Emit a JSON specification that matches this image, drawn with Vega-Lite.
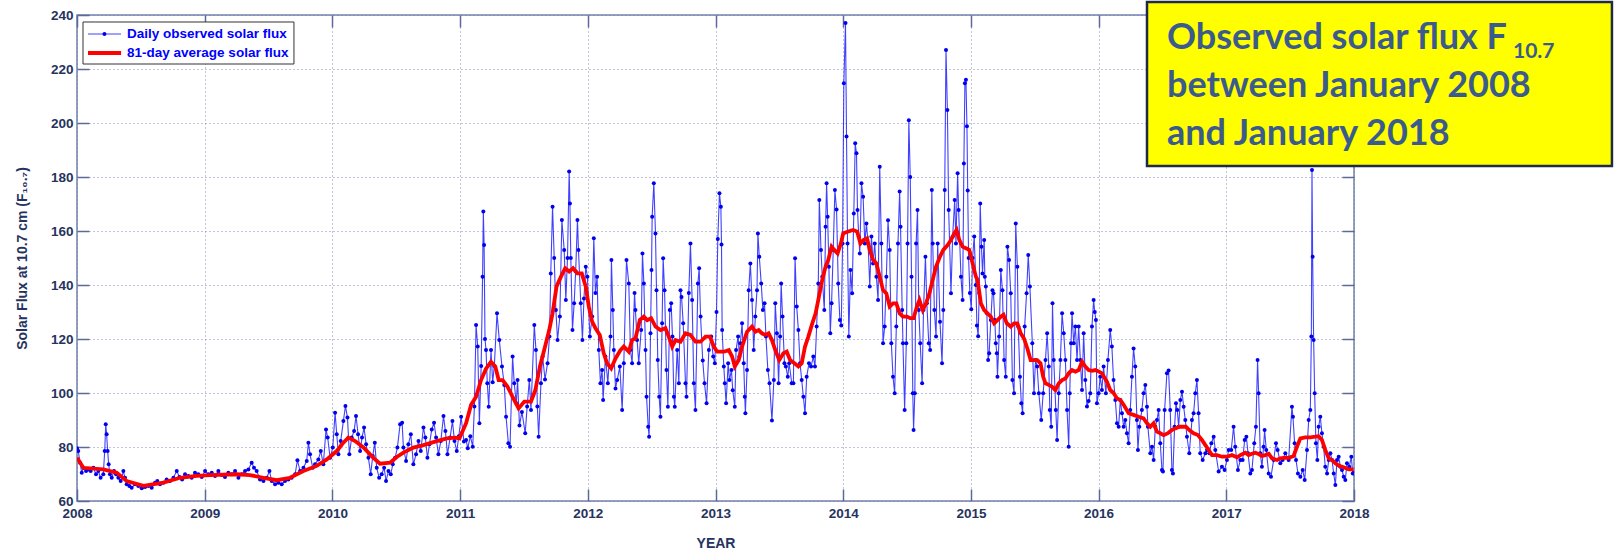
{
"$schema": "https://vega.github.io/schema/vega-lite/v6.json",
"width": 1277, "height": 486,
"autosize": {"type": "none"},
"padding": {"left": 77, "top": 15, "right": 260, "bottom": 51},
"background": "white",
"config": {
  "view": {"stroke": "#7381AD", "strokeWidth": 1.5},
  "axis": {"labelFont": "Liberation Sans", "labelFontSize": 13.5, "labelFontWeight": "bold", "labelColor": "#26335E",
           "titleFont": "Liberation Sans", "titleFontSize": 14, "titleFontWeight": "bold", "titleColor": "#26335E",
           "tickColor": "#5C6A99", "tickWidth": 1.5, "tickSize": -12, "domain": false, "labelPadding": 17,
           "gridDash": [1, 3], "gridColor": "#6F7DB3", "gridWidth": 1, "gridOpacity": 0.9, "labelFlush": false}
},
"data": {"values": [{}]},
"datasets": {
"daily": [
{"t":2008.000,"v":79.5},{"t":2008.010,"v":78.5},{"t":2008.024,"v":74.2},{"t":2008.037,"v":70.5},{"t":2008.050,"v":72.3},{"t":2008.071,"v":71.1},{"t":2008.089,"v":71.7},{"t":2008.107,"v":71.1},{"t":2008.128,"v":72.3},{"t":2008.149,"v":69.9},{"t":2008.167,"v":71.1},{"t":2008.185,"v":68.6},{"t":2008.206,"v":69.9},{"t":2008.217,"v":78.5},{"t":2008.225,"v":88.4},{"t":2008.232,"v":84.7},{"t":2008.240,"v":78.5},{"t":2008.248,"v":73.6},{"t":2008.258,"v":69.9},{"t":2008.272,"v":68.6},{"t":2008.290,"v":71.1},{"t":2008.306,"v":69.9},{"t":2008.324,"v":68.6},{"t":2008.342,"v":67.4},{"t":2008.363,"v":71.1},{"t":2008.376,"v":68.6},{"t":2008.389,"v":66.2},{"t":2008.410,"v":65.6},{"t":2008.428,"v":64.9},{"t":2008.454,"v":66.2},{"t":2008.480,"v":65.6},{"t":2008.507,"v":64.7},{"t":2008.533,"v":65.2},{"t":2008.559,"v":65.6},{"t":2008.585,"v":64.9},{"t":2008.611,"v":66.8},{"t":2008.629,"v":67.4},{"t":2008.650,"v":66.2},{"t":2008.676,"v":66.8},{"t":2008.702,"v":68.0},{"t":2008.728,"v":67.4},{"t":2008.755,"v":68.6},{"t":2008.781,"v":71.1},{"t":2008.802,"v":68.9},{"t":2008.823,"v":68.0},{"t":2008.846,"v":69.9},{"t":2008.872,"v":69.3},{"t":2008.898,"v":68.6},{"t":2008.924,"v":70.5},{"t":2008.950,"v":69.9},{"t":2008.977,"v":68.9},
{"t":2009.003,"v":71.1},{"t":2009.029,"v":69.9},{"t":2009.055,"v":70.5},{"t":2009.081,"v":69.3},{"t":2009.107,"v":71.1},{"t":2009.133,"v":69.6},{"t":2009.159,"v":68.9},{"t":2009.185,"v":70.5},{"t":2009.212,"v":69.9},{"t":2009.238,"v":71.1},{"t":2009.264,"v":68.6},{"t":2009.290,"v":69.9},{"t":2009.316,"v":71.1},{"t":2009.342,"v":71.7},{"t":2009.368,"v":74.2},{"t":2009.386,"v":72.3},{"t":2009.407,"v":71.1},{"t":2009.433,"v":68.0},{"t":2009.460,"v":67.4},{"t":2009.486,"v":68.6},{"t":2009.507,"v":71.1},{"t":2009.525,"v":67.4},{"t":2009.551,"v":66.2},{"t":2009.577,"v":66.8},{"t":2009.603,"v":66.2},{"t":2009.629,"v":67.4},{"t":2009.655,"v":68.0},{"t":2009.681,"v":68.6},{"t":2009.708,"v":69.9},{"t":2009.726,"v":75.1},{"t":2009.747,"v":71.1},{"t":2009.773,"v":72.3},{"t":2009.799,"v":74.8},{"t":2009.812,"v":81.6},{"t":2009.825,"v":77.3},{"t":2009.846,"v":72.3},{"t":2009.864,"v":73.6},{"t":2009.890,"v":75.4},{"t":2009.909,"v":78.5},{"t":2009.929,"v":73.6},{"t":2009.950,"v":86.5},{"t":2009.963,"v":83.5},{"t":2009.982,"v":76.0},
{"t":2010.003,"v":79.8},{"t":2010.021,"v":92.7},{"t":2010.034,"v":84.7},{"t":2010.047,"v":77.3},{"t":2010.065,"v":82.2},{"t":2010.086,"v":89.6},{"t":2010.102,"v":95.2},{"t":2010.118,"v":90.9},{"t":2010.133,"v":77.3},{"t":2010.151,"v":83.5},{"t":2010.170,"v":85.9},{"t":2010.185,"v":91.5},{"t":2010.201,"v":84.7},{"t":2010.217,"v":78.5},{"t":2010.232,"v":83.5},{"t":2010.248,"v":87.2},{"t":2010.264,"v":81.0},{"t":2010.282,"v":76.0},{"t":2010.300,"v":69.9},{"t":2010.316,"v":76.7},{"t":2010.332,"v":81.6},{"t":2010.347,"v":72.3},{"t":2010.366,"v":68.6},{"t":2010.386,"v":69.9},{"t":2010.405,"v":72.3},{"t":2010.420,"v":67.4},{"t":2010.439,"v":71.1},{"t":2010.457,"v":69.9},{"t":2010.473,"v":73.6},{"t":2010.491,"v":76.0},{"t":2010.509,"v":79.8},{"t":2010.530,"v":88.4},{"t":2010.546,"v":89.0},{"t":2010.556,"v":79.8},{"t":2010.577,"v":74.8},{"t":2010.595,"v":81.0},{"t":2010.614,"v":84.7},{"t":2010.634,"v":73.6},{"t":2010.655,"v":77.3},{"t":2010.674,"v":82.2},{"t":2010.692,"v":78.5},{"t":2010.713,"v":87.2},{"t":2010.728,"v":83.5},{"t":2010.744,"v":76.0},{"t":2010.760,"v":81.0},{"t":2010.778,"v":86.5},{"t":2010.796,"v":89.0},{"t":2010.812,"v":83.5},{"t":2010.830,"v":77.3},{"t":2010.849,"v":82.2},{"t":2010.870,"v":91.5},{"t":2010.885,"v":85.9},{"t":2010.901,"v":77.3},{"t":2010.922,"v":83.5},{"t":2010.940,"v":89.6},{"t":2010.956,"v":82.2},{"t":2010.974,"v":78.5},{"t":2010.990,"v":84.0},
{"t":2011.008,"v":91.2},{"t":2011.030,"v":82.0},{"t":2011.047,"v":82.6},{"t":2011.060,"v":79.5},{"t":2011.080,"v":84.0},{"t":2011.099,"v":80.1},{"t":2011.112,"v":95.0},{"t":2011.125,"v":125.2},{"t":2011.138,"v":117.2},{"t":2011.151,"v":88.8},{"t":2011.165,"v":110.0},{"t":2011.176,"v":143.1},{"t":2011.182,"v":167.2},{"t":2011.188,"v":154.8},{"t":2011.195,"v":120.0},{"t":2011.203,"v":115.9},{"t":2011.213,"v":103.6},{"t":2011.224,"v":94.9},{"t":2011.242,"v":115.9},{"t":2011.255,"v":104.0},{"t":2011.268,"v":110.0},{"t":2011.289,"v":129.5},{"t":2011.307,"v":119.6},{"t":2011.328,"v":109.8},{"t":2011.346,"v":103.0},{"t":2011.360,"v":91.2},{"t":2011.378,"v":81.4},{"t":2011.391,"v":80.1},{"t":2011.411,"v":113.5},{"t":2011.424,"v":103.6},{"t":2011.440,"v":96.2},{"t":2011.450,"v":104.8},{"t":2011.465,"v":88.0},{"t":2011.484,"v":93.0},{"t":2011.510,"v":85.1},{"t":2011.525,"v":95.0},{"t":2011.542,"v":104.8},{"t":2011.555,"v":93.7},{"t":2011.581,"v":125.2},{"t":2011.594,"v":115.9},{"t":2011.605,"v":95.0},{"t":2011.615,"v":83.8},{"t":2011.633,"v":103.6},{"t":2011.646,"v":113.5},{"t":2011.665,"v":105.0},{"t":2011.685,"v":111.0},{"t":2011.700,"v":120.9},{"t":2011.710,"v":144.3},{"t":2011.724,"v":169.0},{"t":2011.737,"v":150.0},{"t":2011.750,"v":130.7},{"t":2011.763,"v":119.6},{"t":2011.781,"v":128.3},{"t":2011.797,"v":164.1},{"t":2011.815,"v":153.0},{"t":2011.828,"v":134.4},{"t":2011.841,"v":150.0},{"t":2011.854,"v":182.0},{"t":2011.860,"v":170.2},{"t":2011.867,"v":150.0},{"t":2011.880,"v":123.3},{"t":2011.893,"v":133.2},{"t":2011.905,"v":145.0},{"t":2011.919,"v":164.1},{"t":2011.927,"v":153.0},{"t":2011.945,"v":133.2},{"t":2011.958,"v":119.6},{"t":2011.970,"v":135.0},{"t":2011.984,"v":146.8},{"t":2011.997,"v":143.1},
{"t":2012.016,"v":120.9},{"t":2012.034,"v":128.3},{"t":2012.047,"v":157.3},{"t":2012.060,"v":137.0},{"t":2012.073,"v":143.1},{"t":2012.086,"v":115.9},{"t":2012.099,"v":103.6},{"t":2012.112,"v":108.5},{"t":2012.120,"v":97.4},{"t":2012.138,"v":113.5},{"t":2012.157,"v":103.6},{"t":2012.178,"v":120.9},{"t":2012.185,"v":149.3},{"t":2012.196,"v":130.7},{"t":2012.204,"v":115.9},{"t":2012.217,"v":101.7},{"t":2012.230,"v":104.8},{"t":2012.251,"v":109.8},{"t":2012.269,"v":93.7},{"t":2012.282,"v":111.0},{"t":2012.303,"v":149.3},{"t":2012.321,"v":140.6},{"t":2012.334,"v":115.9},{"t":2012.347,"v":111.0},{"t":2012.366,"v":137.0},{"t":2012.373,"v":130.7},{"t":2012.386,"v":119.6},{"t":2012.399,"v":111.0},{"t":2012.418,"v":123.3},{"t":2012.428,"v":151.7},{"t":2012.439,"v":140.6},{"t":2012.452,"v":115.9},{"t":2012.460,"v":98.6},{"t":2012.473,"v":87.5},{"t":2012.480,"v":83.8},{"t":2012.491,"v":122.1},{"t":2012.499,"v":145.6},{"t":2012.504,"v":165.3},{"t":2012.517,"v":177.7},{"t":2012.530,"v":159.1},{"t":2012.538,"v":138.1},{"t":2012.548,"v":112.2},{"t":2012.559,"v":98.6},{"t":2012.569,"v":91.2},{"t":2012.582,"v":125.8},{"t":2012.590,"v":149.9},{"t":2012.601,"v":138.1},{"t":2012.616,"v":108.5},{"t":2012.627,"v":94.9},{"t":2012.642,"v":130.7},{"t":2012.653,"v":133.2},{"t":2012.663,"v":120.9},{"t":2012.674,"v":98.6},{"t":2012.681,"v":94.9},{"t":2012.700,"v":115.9},{"t":2012.713,"v":103.6},{"t":2012.726,"v":138.1},{"t":2012.734,"v":135.6},{"t":2012.747,"v":125.8},{"t":2012.765,"v":103.6},{"t":2012.773,"v":98.6},{"t":2012.791,"v":137.0},{"t":2012.804,"v":155.4},{"t":2012.817,"v":134.4},{"t":2012.830,"v":103.6},{"t":2012.843,"v":93.7},{"t":2012.862,"v":140.6},{"t":2012.872,"v":146.2},{"t":2012.883,"v":128.3},{"t":2012.900,"v":112.0},{"t":2012.914,"v":103.6},{"t":2012.930,"v":96.2},{"t":2012.948,"v":115.9},{"t":2012.966,"v":120.9},{"t":2012.982,"v":113.5},{"t":2012.995,"v":111.0},
{"t":2013.008,"v":130.0},{"t":2013.018,"v":157.0},{"t":2013.031,"v":174.0},{"t":2013.042,"v":169.0},{"t":2013.047,"v":155.0},{"t":2013.052,"v":123.3},{"t":2013.065,"v":109.8},{"t":2013.073,"v":103.6},{"t":2013.083,"v":96.2},{"t":2013.099,"v":111.0},{"t":2013.109,"v":104.8},{"t":2013.125,"v":108.5},{"t":2013.135,"v":101.0},{"t":2013.151,"v":94.9},{"t":2013.161,"v":115.9},{"t":2013.177,"v":120.9},{"t":2013.187,"v":113.5},{"t":2013.195,"v":118.4},{"t":2013.208,"v":125.8},{"t":2013.221,"v":111.0},{"t":2013.229,"v":98.6},{"t":2013.234,"v":92.5},{"t":2013.247,"v":108.5},{"t":2013.260,"v":138.1},{"t":2013.273,"v":148.0},{"t":2013.286,"v":134.4},{"t":2013.299,"v":115.9},{"t":2013.312,"v":128.3},{"t":2013.325,"v":138.1},{"t":2013.332,"v":159.1},{"t":2013.343,"v":150.5},{"t":2013.358,"v":140.6},{"t":2013.371,"v":130.7},{"t":2013.384,"v":133.2},{"t":2013.395,"v":120.9},{"t":2013.410,"v":108.5},{"t":2013.423,"v":103.6},{"t":2013.442,"v":89.8},{"t":2013.457,"v":104.8},{"t":2013.468,"v":133.2},{"t":2013.481,"v":122.1},{"t":2013.494,"v":103.6},{"t":2013.506,"v":120.9},{"t":2013.514,"v":140.6},{"t":2013.525,"v":128.3},{"t":2013.540,"v":111.0},{"t":2013.551,"v":109.8},{"t":2013.566,"v":106.0},{"t":2013.577,"v":111.0},{"t":2013.597,"v":103.6},{"t":2013.610,"v":103.6},{"t":2013.623,"v":149.9},{"t":2013.636,"v":132.0},{"t":2013.649,"v":123.3},{"t":2013.662,"v":111.0},{"t":2013.675,"v":104.8},{"t":2013.688,"v":98.6},{"t":2013.701,"v":92.5},{"t":2013.714,"v":106.0},{"t":2013.732,"v":111.0},{"t":2013.748,"v":109.8},{"t":2013.766,"v":113.5},{"t":2013.779,"v":109.8},{"t":2013.792,"v":124.6},{"t":2013.805,"v":140.6},{"t":2013.813,"v":171.5},{"t":2013.826,"v":153.0},{"t":2013.836,"v":143.1},{"t":2013.852,"v":130.7},{"t":2013.862,"v":161.6},{"t":2013.870,"v":177.7},{"t":2013.878,"v":165.3},{"t":2013.888,"v":146.8},{"t":2013.899,"v":122.1},{"t":2013.909,"v":133.2},{"t":2013.922,"v":153.0},{"t":2013.935,"v":175.2},{"t":2013.948,"v":168.0},{"t":2013.961,"v":140.6},{"t":2013.974,"v":127.0},{"t":2013.985,"v":125.0},{"t":2013.995,"v":155.4},
{"t":2014.005,"v":214.7},{"t":2014.018,"v":237.0},{"t":2014.026,"v":195.0},{"t":2014.034,"v":155.4},{"t":2014.044,"v":120.9},{"t":2014.057,"v":145.6},{"t":2014.070,"v":136.9},{"t":2014.083,"v":166.5},{"t":2014.094,"v":192.5},{"t":2014.104,"v":188.8},{"t":2014.112,"v":167.8},{"t":2014.122,"v":157.9},{"t":2014.130,"v":151.7},{"t":2014.143,"v":177.7},{"t":2014.156,"v":172.7},{"t":2014.169,"v":155.4},{"t":2014.182,"v":162.8},{"t":2014.195,"v":155.4},{"t":2014.208,"v":139.4},{"t":2014.221,"v":158.0},{"t":2014.234,"v":148.0},{"t":2014.247,"v":155.4},{"t":2014.260,"v":143.1},{"t":2014.273,"v":134.4},{"t":2014.286,"v":183.8},{"t":2014.299,"v":155.4},{"t":2014.312,"v":118.4},{"t":2014.325,"v":124.6},{"t":2014.338,"v":143.1},{"t":2014.351,"v":164.0},{"t":2014.364,"v":153.0},{"t":2014.377,"v":118.4},{"t":2014.390,"v":106.0},{"t":2014.403,"v":99.9},{"t":2014.416,"v":124.6},{"t":2014.429,"v":155.4},{"t":2014.442,"v":174.6},{"t":2014.449,"v":161.6},{"t":2014.462,"v":130.7},{"t":2014.468,"v":118.4},{"t":2014.481,"v":93.7},{"t":2014.494,"v":118.4},{"t":2014.504,"v":155.4},{"t":2014.514,"v":201.0},{"t":2014.525,"v":180.0},{"t":2014.535,"v":143.1},{"t":2014.545,"v":99.9},{"t":2014.551,"v":86.3},{"t":2014.561,"v":99.9},{"t":2014.571,"v":155.4},{"t":2014.582,"v":167.8},{"t":2014.592,"v":130.7},{"t":2014.603,"v":118.4},{"t":2014.618,"v":103.6},{"t":2014.629,"v":130.7},{"t":2014.644,"v":150.5},{"t":2014.655,"v":133.2},{"t":2014.670,"v":118.4},{"t":2014.681,"v":115.9},{"t":2014.694,"v":175.2},{"t":2014.701,"v":155.4},{"t":2014.714,"v":130.7},{"t":2014.727,"v":120.9},{"t":2014.740,"v":155.4},{"t":2014.758,"v":126.4},{"t":2014.774,"v":111.0},{"t":2014.784,"v":130.7},{"t":2014.795,"v":175.2},{"t":2014.805,"v":227.0},{"t":2014.816,"v":204.8},{"t":2014.826,"v":167.8},{"t":2014.844,"v":136.9},{"t":2014.857,"v":157.9},{"t":2014.873,"v":171.5},{"t":2014.883,"v":155.4},{"t":2014.896,"v":181.4},{"t":2014.904,"v":167.8},{"t":2014.922,"v":143.1},{"t":2014.935,"v":134.4},{"t":2014.945,"v":185.0},{"t":2014.953,"v":214.7},{"t":2014.961,"v":216.0},{"t":2014.969,"v":198.8},{"t":2014.975,"v":175.0},{"t":2014.982,"v":150.0},{"t":2014.992,"v":137.0},
{"t":2015.003,"v":131.0},{"t":2015.013,"v":150.0},{"t":2015.026,"v":158.0},{"t":2015.039,"v":140.0},{"t":2015.047,"v":125.0},{"t":2015.057,"v":121.0},{"t":2015.065,"v":137.0},{"t":2015.073,"v":170.2},{"t":2015.083,"v":154.2},{"t":2015.091,"v":144.3},{"t":2015.104,"v":156.7},{"t":2015.109,"v":143.1},{"t":2015.117,"v":139.4},{"t":2015.125,"v":129.5},{"t":2015.135,"v":112.2},{"t":2015.143,"v":114.7},{"t":2015.156,"v":127.0},{"t":2015.169,"v":138.1},{"t":2015.177,"v":136.9},{"t":2015.187,"v":127.0},{"t":2015.195,"v":118.4},{"t":2015.203,"v":114.7},{"t":2015.208,"v":106.0},{"t":2015.221,"v":120.9},{"t":2015.234,"v":145.6},{"t":2015.247,"v":138.1},{"t":2015.260,"v":112.2},{"t":2015.273,"v":106.0},{"t":2015.286,"v":154.2},{"t":2015.299,"v":149.3},{"t":2015.312,"v":136.9},{"t":2015.325,"v":104.8},{"t":2015.338,"v":99.9},{"t":2015.351,"v":162.8},{"t":2015.364,"v":146.8},{"t":2015.371,"v":124.6},{"t":2015.384,"v":106.0},{"t":2015.395,"v":96.2},{"t":2015.405,"v":92.5},{"t":2015.421,"v":124.6},{"t":2015.436,"v":136.9},{"t":2015.449,"v":151.1},{"t":2015.462,"v":139.4},{"t":2015.481,"v":118.4},{"t":2015.494,"v":99.9},{"t":2015.506,"v":112.2},{"t":2015.519,"v":109.8},{"t":2015.532,"v":99.9},{"t":2015.551,"v":90.0},{"t":2015.566,"v":99.9},{"t":2015.584,"v":112.2},{"t":2015.597,"v":122.1},{"t":2015.610,"v":109.8},{"t":2015.618,"v":93.7},{"t":2015.629,"v":87.5},{"t":2015.639,"v":133.2},{"t":2015.649,"v":112.2},{"t":2015.665,"v":93.7},{"t":2015.675,"v":82.6},{"t":2015.688,"v":99.9},{"t":2015.701,"v":112.2},{"t":2015.714,"v":129.5},{"t":2015.727,"v":122.1},{"t":2015.740,"v":112.2},{"t":2015.753,"v":93.7},{"t":2015.766,"v":80.1},{"t":2015.774,"v":99.9},{"t":2015.784,"v":118.4},{"t":2015.792,"v":129.5},{"t":2015.805,"v":118.4},{"t":2015.818,"v":124.6},{"t":2015.831,"v":112.2},{"t":2015.844,"v":124.6},{"t":2015.857,"v":112.2},{"t":2015.870,"v":101.1},{"t":2015.883,"v":122.1},{"t":2015.896,"v":104.8},{"t":2015.909,"v":95.0},{"t":2015.922,"v":97.0},{"t":2015.935,"v":99.9},{"t":2015.948,"v":124.6},{"t":2015.961,"v":134.4},{"t":2015.970,"v":130.0},{"t":2015.979,"v":127.0},{"t":2015.987,"v":96.2},
{"t":2016.000,"v":99.9},{"t":2016.013,"v":106.0},{"t":2016.026,"v":101.1},{"t":2016.039,"v":109.8},{"t":2016.057,"v":99.9},{"t":2016.073,"v":112.2},{"t":2016.091,"v":123.3},{"t":2016.104,"v":117.2},{"t":2016.117,"v":104.8},{"t":2016.131,"v":97.4},{"t":2016.144,"v":88.8},{"t":2016.157,"v":87.5},{"t":2016.170,"v":97.4},{"t":2016.183,"v":92.5},{"t":2016.196,"v":87.5},{"t":2016.209,"v":90.0},{"t":2016.222,"v":85.1},{"t":2016.235,"v":81.4},{"t":2016.248,"v":93.7},{"t":2016.261,"v":106.0},{"t":2016.274,"v":116.5},{"t":2016.287,"v":109.8},{"t":2016.300,"v":90.0},{"t":2016.308,"v":78.9},{"t":2016.319,"v":87.5},{"t":2016.339,"v":93.7},{"t":2016.352,"v":99.9},{"t":2016.366,"v":103.0},{"t":2016.379,"v":94.9},{"t":2016.386,"v":87.5},{"t":2016.405,"v":77.7},{"t":2016.418,"v":80.1},{"t":2016.431,"v":75.2},{"t":2016.444,"v":87.5},{"t":2016.457,"v":90.0},{"t":2016.470,"v":93.7},{"t":2016.483,"v":81.4},{"t":2016.496,"v":71.5},{"t":2016.504,"v":70.9},{"t":2016.517,"v":93.7},{"t":2016.535,"v":107.3},{"t":2016.548,"v":108.3},{"t":2016.561,"v":93.7},{"t":2016.574,"v":71.5},{"t":2016.582,"v":70.2},{"t":2016.595,"v":87.5},{"t":2016.606,"v":96.2},{"t":2016.616,"v":93.7},{"t":2016.627,"v":87.5},{"t":2016.640,"v":97.4},{"t":2016.653,"v":100.5},{"t":2016.666,"v":94.9},{"t":2016.679,"v":90.0},{"t":2016.692,"v":83.8},{"t":2016.710,"v":77.7},{"t":2016.731,"v":90.0},{"t":2016.744,"v":92.5},{"t":2016.757,"v":99.9},{"t":2016.770,"v":104.8},{"t":2016.783,"v":92.5},{"t":2016.796,"v":77.7},{"t":2016.815,"v":75.2},{"t":2016.836,"v":77.7},{"t":2016.849,"v":78.9},{"t":2016.867,"v":77.7},{"t":2016.883,"v":81.4},{"t":2016.901,"v":83.8},{"t":2016.914,"v":78.9},{"t":2016.940,"v":70.9},{"t":2016.966,"v":72.7},{"t":2016.987,"v":71.5},
{"t":2017.005,"v":75.2},{"t":2017.018,"v":78.9},{"t":2017.039,"v":78.9},{"t":2017.057,"v":87.5},{"t":2017.070,"v":80.1},{"t":2017.091,"v":71.5},{"t":2017.110,"v":75.2},{"t":2017.128,"v":75.2},{"t":2017.144,"v":82.6},{"t":2017.157,"v":83.8},{"t":2017.170,"v":77.7},{"t":2017.188,"v":70.2},{"t":2017.201,"v":71.5},{"t":2017.219,"v":81.4},{"t":2017.232,"v":87.5},{"t":2017.245,"v":112.2},{"t":2017.253,"v":99.9},{"t":2017.266,"v":77.7},{"t":2017.279,"v":72.7},{"t":2017.292,"v":80.1},{"t":2017.300,"v":86.3},{"t":2017.313,"v":78.9},{"t":2017.332,"v":70.2},{"t":2017.350,"v":69.0},{"t":2017.371,"v":75.2},{"t":2017.389,"v":81.4},{"t":2017.402,"v":78.9},{"t":2017.423,"v":74.0},{"t":2017.441,"v":75.2},{"t":2017.462,"v":77.7},{"t":2017.488,"v":75.2},{"t":2017.514,"v":94.9},{"t":2017.522,"v":91.2},{"t":2017.535,"v":81.4},{"t":2017.546,"v":75.2},{"t":2017.561,"v":70.2},{"t":2017.580,"v":69.0},{"t":2017.598,"v":71.5},{"t":2017.614,"v":67.8},{"t":2017.632,"v":78.9},{"t":2017.645,"v":90.0},{"t":2017.658,"v":93.7},{"t":2017.666,"v":120.9},{"t":2017.671,"v":182.6},{"t":2017.676,"v":150.5},{"t":2017.684,"v":119.6},{"t":2017.692,"v":99.9},{"t":2017.702,"v":81.4},{"t":2017.713,"v":75.2},{"t":2017.723,"v":87.5},{"t":2017.736,"v":91.2},{"t":2017.749,"v":85.1},{"t":2017.762,"v":80.1},{"t":2017.775,"v":72.7},{"t":2017.789,"v":70.2},{"t":2017.802,"v":75.2},{"t":2017.815,"v":77.7},{"t":2017.828,"v":75.2},{"t":2017.841,"v":70.2},{"t":2017.854,"v":65.9},{"t":2017.867,"v":75.2},{"t":2017.880,"v":76.4},{"t":2017.893,"v":72.7},{"t":2017.906,"v":71.5},{"t":2017.919,"v":69.0},{"t":2017.932,"v":67.8},{"t":2017.945,"v":74.0},{"t":2017.963,"v":72.7},{"t":2017.979,"v":76.4},{"t":2017.990,"v":70.2},{"t":2018.000,"v":70.5}
],
"avg": [
{"t":2008.000,"v":76.0},{"t":2008.050,"v":72.3},{"t":2008.206,"v":71.7},{"t":2008.311,"v":70.5},{"t":2008.389,"v":67.4},{"t":2008.520,"v":65.6},{"t":2008.676,"v":66.8},{"t":2008.807,"v":68.6},{"t":2008.937,"v":69.3},{"t":2009.042,"v":69.6},{"t":2009.250,"v":69.9},{"t":2009.355,"v":69.6},{"t":2009.460,"v":68.6},{"t":2009.564,"v":67.7},{"t":2009.668,"v":68.6},{"t":2009.773,"v":71.1},{"t":2009.877,"v":73.0},{"t":2009.956,"v":75.4},{"t":2010.034,"v":78.5},{"t":2010.086,"v":81.6},{"t":2010.125,"v":83.5},{"t":2010.178,"v":82.2},{"t":2010.243,"v":79.8},{"t":2010.321,"v":76.0},{"t":2010.373,"v":73.8},{"t":2010.452,"v":74.2},{"t":2010.504,"v":76.3},{"t":2010.556,"v":77.9},{"t":2010.634,"v":79.8},{"t":2010.713,"v":80.7},{"t":2010.817,"v":82.2},{"t":2010.896,"v":83.2},{"t":2010.960,"v":83.5},{"t":2010.995,"v":83.2},
{"t":2011.047,"v":88.8},{"t":2011.086,"v":95.6},{"t":2011.125,"v":98.6},{"t":2011.164,"v":104.8},{"t":2011.203,"v":109.0},{"t":2011.242,"v":111.6},{"t":2011.276,"v":109.8},{"t":2011.302,"v":104.8},{"t":2011.333,"v":104.8},{"t":2011.372,"v":102.3},{"t":2011.411,"v":98.6},{"t":2011.458,"v":94.3},{"t":2011.503,"v":96.8},{"t":2011.555,"v":96.8},{"t":2011.589,"v":101.0},{"t":2011.625,"v":109.8},{"t":2011.659,"v":116.0},{"t":2011.698,"v":123.3},{"t":2011.724,"v":129.5},{"t":2011.755,"v":139.4},{"t":2011.789,"v":143.0},{"t":2011.823,"v":146.2},{"t":2011.854,"v":145.0},{"t":2011.885,"v":146.2},{"t":2011.919,"v":144.3},{"t":2011.953,"v":144.3},{"t":2011.984,"v":139.4},
{"t":2012.008,"v":132.0},{"t":2012.034,"v":126.4},{"t":2012.060,"v":124.0},{"t":2012.094,"v":121.5},{"t":2012.125,"v":114.7},{"t":2012.151,"v":111.0},{"t":2012.183,"v":109.1},{"t":2012.217,"v":112.8},{"t":2012.256,"v":115.9},{"t":2012.282,"v":117.2},{"t":2012.321,"v":115.3},{"t":2012.347,"v":119.6},{"t":2012.373,"v":120.2},{"t":2012.407,"v":127.0},{"t":2012.439,"v":128.3},{"t":2012.465,"v":127.0},{"t":2012.496,"v":127.7},{"t":2012.530,"v":124.6},{"t":2012.569,"v":123.3},{"t":2012.608,"v":124.0},{"t":2012.634,"v":120.9},{"t":2012.661,"v":117.2},{"t":2012.687,"v":119.6},{"t":2012.726,"v":119.0},{"t":2012.765,"v":122.1},{"t":2012.804,"v":121.5},{"t":2012.843,"v":119.0},{"t":2012.883,"v":119.0},{"t":2012.922,"v":120.9},{"t":2012.956,"v":120.9},{"t":2012.987,"v":117.2},
{"t":2013.013,"v":115.3},{"t":2013.040,"v":115.3},{"t":2013.065,"v":115.3},{"t":2013.104,"v":115.9},{"t":2013.130,"v":113.5},{"t":2013.151,"v":109.8},{"t":2013.182,"v":112.2},{"t":2013.208,"v":117.2},{"t":2013.247,"v":122.7},{"t":2013.286,"v":124.6},{"t":2013.312,"v":122.7},{"t":2013.338,"v":123.3},{"t":2013.364,"v":122.1},{"t":2013.390,"v":121.5},{"t":2013.416,"v":122.1},{"t":2013.442,"v":119.6},{"t":2013.468,"v":115.9},{"t":2013.499,"v":112.2},{"t":2013.532,"v":114.7},{"t":2013.558,"v":115.3},{"t":2013.584,"v":112.2},{"t":2013.618,"v":111.0},{"t":2013.649,"v":109.8},{"t":2013.675,"v":111.0},{"t":2013.701,"v":117.2},{"t":2013.727,"v":120.9},{"t":2013.758,"v":125.8},{"t":2013.784,"v":129.5},{"t":2013.810,"v":135.7},{"t":2013.836,"v":141.9},{"t":2013.862,"v":146.8},{"t":2013.883,"v":149.3},{"t":2013.909,"v":154.2},{"t":2013.930,"v":153.0},{"t":2013.956,"v":151.7},{"t":2013.982,"v":155.4},
{"t":2014.000,"v":159.1},{"t":2014.039,"v":159.8},{"t":2014.078,"v":160.4},{"t":2014.109,"v":159.8},{"t":2014.135,"v":155.4},{"t":2014.161,"v":156.7},{"t":2014.187,"v":157.3},{"t":2014.208,"v":153.0},{"t":2014.234,"v":149.3},{"t":2014.260,"v":148.0},{"t":2014.286,"v":143.1},{"t":2014.312,"v":138.1},{"t":2014.338,"v":136.9},{"t":2014.364,"v":132.0},{"t":2014.390,"v":133.2},{"t":2014.416,"v":133.2},{"t":2014.442,"v":129.5},{"t":2014.468,"v":128.3},{"t":2014.499,"v":128.3},{"t":2014.525,"v":127.7},{"t":2014.551,"v":127.7},{"t":2014.577,"v":132.0},{"t":2014.597,"v":134.4},{"t":2014.623,"v":130.7},{"t":2014.649,"v":133.2},{"t":2014.675,"v":136.9},{"t":2014.701,"v":141.9},{"t":2014.727,"v":146.8},{"t":2014.758,"v":150.5},{"t":2014.784,"v":153.0},{"t":2014.818,"v":154.8},{"t":2014.844,"v":156.7},{"t":2014.870,"v":159.1},{"t":2014.888,"v":160.4},{"t":2014.909,"v":156.7},{"t":2014.935,"v":154.2},{"t":2014.961,"v":153.6},{"t":2014.987,"v":153.0},
{"t":2015.013,"v":148.0},{"t":2015.039,"v":143.1},{"t":2015.052,"v":141.9},{"t":2015.078,"v":133.2},{"t":2015.104,"v":130.7},{"t":2015.130,"v":129.5},{"t":2015.156,"v":128.3},{"t":2015.182,"v":125.8},{"t":2015.208,"v":127.0},{"t":2015.234,"v":128.3},{"t":2015.255,"v":129.0},{"t":2015.281,"v":125.8},{"t":2015.312,"v":124.6},{"t":2015.338,"v":125.8},{"t":2015.364,"v":125.8},{"t":2015.390,"v":122.1},{"t":2015.416,"v":120.2},{"t":2015.442,"v":116.5},{"t":2015.468,"v":112.2},{"t":2015.494,"v":112.2},{"t":2015.519,"v":112.2},{"t":2015.545,"v":111.0},{"t":2015.566,"v":106.0},{"t":2015.584,"v":103.6},{"t":2015.610,"v":103.0},{"t":2015.636,"v":102.3},{"t":2015.662,"v":101.1},{"t":2015.688,"v":103.6},{"t":2015.714,"v":104.8},{"t":2015.740,"v":105.4},{"t":2015.766,"v":107.3},{"t":2015.792,"v":108.5},{"t":2015.818,"v":107.9},{"t":2015.844,"v":108.5},{"t":2015.870,"v":111.6},{"t":2015.896,"v":109.8},{"t":2015.922,"v":108.5},{"t":2015.948,"v":108.2},{"t":2015.974,"v":108.5},
{"t":2016.000,"v":108.0},{"t":2016.026,"v":107.3},{"t":2016.065,"v":104.2},{"t":2016.091,"v":101.1},{"t":2016.117,"v":100.0},{"t":2016.144,"v":98.0},{"t":2016.170,"v":97.4},{"t":2016.196,"v":95.6},{"t":2016.235,"v":92.5},{"t":2016.274,"v":91.9},{"t":2016.313,"v":91.2},{"t":2016.352,"v":90.6},{"t":2016.379,"v":88.8},{"t":2016.405,"v":87.5},{"t":2016.431,"v":88.8},{"t":2016.457,"v":85.7},{"t":2016.483,"v":85.1},{"t":2016.509,"v":84.4},{"t":2016.543,"v":85.1},{"t":2016.574,"v":86.3},{"t":2016.601,"v":86.9},{"t":2016.632,"v":87.5},{"t":2016.658,"v":87.5},{"t":2016.684,"v":87.5},{"t":2016.710,"v":86.3},{"t":2016.744,"v":85.1},{"t":2016.778,"v":84.4},{"t":2016.809,"v":82.6},{"t":2016.836,"v":80.7},{"t":2016.862,"v":78.9},{"t":2016.888,"v":77.0},{"t":2016.927,"v":77.0},{"t":2016.966,"v":76.4},
{"t":2017.005,"v":76.4},{"t":2017.044,"v":77.0},{"t":2017.084,"v":76.2},{"t":2017.110,"v":77.0},{"t":2017.149,"v":77.9},{"t":2017.175,"v":77.0},{"t":2017.201,"v":77.5},{"t":2017.227,"v":77.9},{"t":2017.253,"v":77.4},{"t":2017.279,"v":76.7},{"t":2017.305,"v":77.0},{"t":2017.332,"v":77.5},{"t":2017.358,"v":75.8},{"t":2017.397,"v":75.2},{"t":2017.423,"v":75.8},{"t":2017.449,"v":76.0},{"t":2017.488,"v":76.0},{"t":2017.527,"v":76.7},{"t":2017.553,"v":80.1},{"t":2017.580,"v":83.2},{"t":2017.619,"v":83.6},{"t":2017.658,"v":83.6},{"t":2017.697,"v":83.8},{"t":2017.723,"v":84.0},{"t":2017.749,"v":82.6},{"t":2017.775,"v":78.9},{"t":2017.802,"v":75.8},{"t":2017.828,"v":75.2},{"t":2017.854,"v":74.0},{"t":2017.885,"v":73.0},{"t":2017.919,"v":72.5},{"t":2017.958,"v":71.7},{"t":2017.997,"v":71.7}
]
},
"layer": [
  {
    "data": {"name": "daily"},
    "mark": {"type": "line", "color": "#0000FF", "strokeWidth": 1.1, "opacity": 0.75, "clip": true,
             "point": {"filled": true, "size": 16, "opacity": 1, "color": "#0000EE"}},
    "encoding": {
      "x": {"field": "t", "type": "quantitative",
            "scale": {"domain": [2008, 2018], "nice": false, "zero": false},
            "axis": {"orient": "bottom", "values": [2008,2009,2010,2011,2012,2013,2014,2015,2016,2017,2018],
                     "format": "d", "title": "YEAR", "grid": true, "titlePadding": 17, "labelPadding": 17}},
      "y": {"field": "v", "type": "quantitative",
            "scale": {"domain": [60, 240], "nice": false, "zero": false},
            "axis": {"orient": "left", "values": [60,80,100,120,140,160,180,200,220,240],
                     "title": "Solar Flux at 10.7 cm (F₁₀.₇)", "grid": true, "titlePadding": 21, "labelPadding": 16}}
    }
  },
  {
    "data": {"name": "avg"},
    "mark": {"type": "line", "color": "#FF0000", "strokeWidth": 3.8, "clip": true},
    "encoding": {
      "x": {"field": "t", "type": "quantitative",
            "axis": {"orient": "top", "values": [2008,2009,2010,2011,2012,2013,2014,2015,2016,2017,2018],
                     "labels": false, "title": null, "grid": false}},
      "y": {"field": "v", "type": "quantitative",
            "axis": {"orient": "right", "values": [60,80,100,120,140,160,180,200,220,240],
                     "labels": false, "title": null, "grid": false}}
    }
  },
  {
    "mark": {"type": "rect", "fill": "white", "stroke": "#333333", "strokeWidth": 1},
    "encoding": {
      "x": {"datum": 2008.047, "type": "quantitative", "axis": null},
      "x2": {"datum": 2009.699},
      "y": {"datum": 237.41, "type": "quantitative", "axis": null},
      "y2": {"datum": 221.85}
    }
  },
  {
    "mark": {"type": "rule", "color": "#0000FF", "strokeWidth": 1, "opacity": 0.75},
    "encoding": {
      "x": {"datum": 2008.086, "type": "quantitative", "axis": null},
      "x2": {"datum": 2008.345},
      "y": {"datum": 232.96, "type": "quantitative", "axis": null}
    }
  },
  {
    "mark": {"type": "point", "filled": true, "size": 16, "color": "#0000EE", "opacity": 1},
    "encoding": {
      "x": {"datum": 2008.215, "type": "quantitative", "axis": null},
      "y": {"datum": 232.96, "type": "quantitative", "axis": null}
    }
  },
  {
    "mark": {"type": "rule", "color": "#FF0000", "strokeWidth": 4},
    "encoding": {
      "x": {"datum": 2008.086, "type": "quantitative", "axis": null},
      "x2": {"datum": 2008.345},
      "y": {"datum": 225.93, "type": "quantitative", "axis": null}
    }
  },
  {
    "mark": {"type": "text", "align": "left", "baseline": "middle", "font": "Liberation Sans", "fontWeight": "bold",
             "fontSize": 13.5, "color": "#0000FF"},
    "encoding": {
      "x": {"datum": 2008.392, "type": "quantitative", "axis": null},
      "y": {"datum": 232.96, "type": "quantitative", "axis": null},
      "text": {"value": "Daily observed solar flux"}
    }
  },
  {
    "mark": {"type": "text", "align": "left", "baseline": "middle", "font": "Liberation Sans", "fontWeight": "bold",
             "fontSize": 13.5, "color": "#0000FF"},
    "encoding": {
      "x": {"datum": 2008.392, "type": "quantitative", "axis": null},
      "y": {"datum": 225.93, "type": "quantitative", "axis": null},
      "text": {"value": "81-day average solar flux"}
    }
  },
  {
    "mark": {"type": "rect", "fill": "#FFFF00", "stroke": "#1F2A44", "strokeWidth": 2.5},
    "encoding": {
      "x": {"datum": 2016.379, "type": "quantitative", "axis": null},
      "x2": {"datum": 2020.02},
      "y": {"datum": 244.8, "type": "quantitative", "axis": null},
      "y2": {"datum": 184.07}
    }
  },
  {
    "mark": {"type": "text", "align": "left", "baseline": "alphabetic", "font": "Lato", "fontWeight": "bold",
             "fontSize": 36, "lineHeight": 48, "color": "#3B5B8D"},
    "encoding": {
      "x": {"datum": 2016.536, "type": "quantitative", "axis": null},
      "y": {"datum": 227.4, "type": "quantitative", "axis": null},
      "text": {"value": ["Observed solar flux F", "between January 2008", "and January 2018"]}
    }
  },
  {
    "mark": {"type": "text", "align": "left", "baseline": "alphabetic", "font": "Lato", "fontWeight": "bold",
             "fontSize": 21, "color": "#3B5B8D"},
    "encoding": {
      "x": {"datum": 2019.245, "type": "quantitative", "axis": null},
      "y": {"datum": 224.1, "type": "quantitative", "axis": null},
      "text": {"value": "10.7"}
    }
  }
],
"resolve": {"axis": {"x": "independent", "y": "independent"}}
}
